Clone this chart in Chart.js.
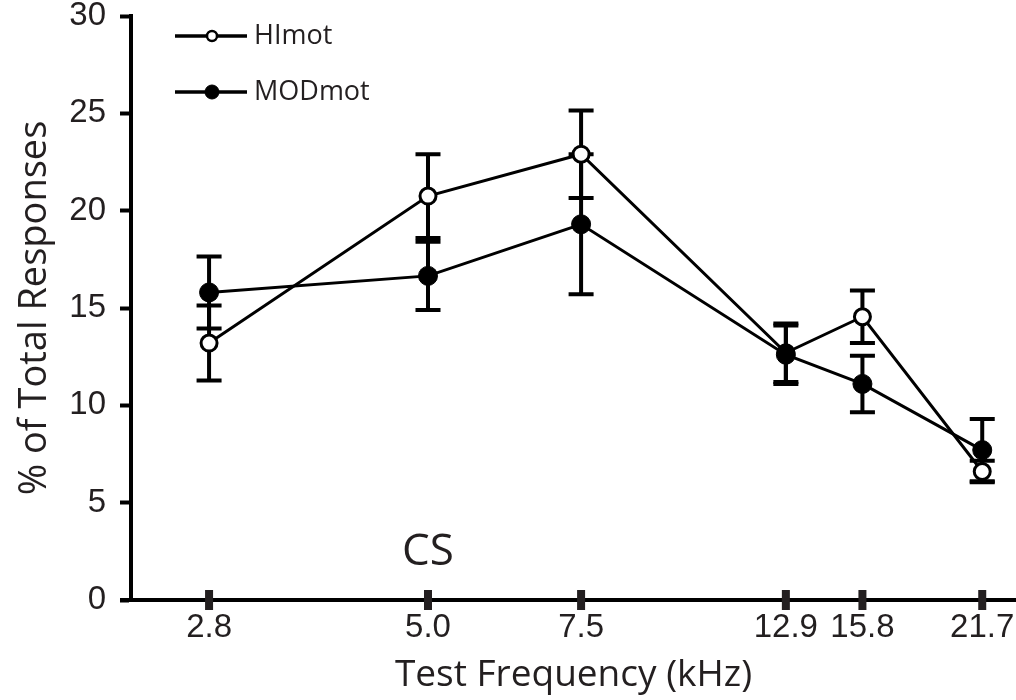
<!DOCTYPE html>
<html>
<head>
<meta charset="utf-8">
<script src="https://cdn.jsdelivr.net/npm/chart.js@4.4.0/dist/chart.umd.min.js"></script>
<style>
  html, body { margin: 0; padding: 0; background: #fff; }
  #wrap { width: 1016px; height: 700px; }
</style>
</head>
<body>
<div id="wrap"><canvas id="chart" width="1016" height="700"></canvas></div>
<script>
// test frequencies (kHz), plotted on a log axis
const freqs = [2.8, 5.0, 7.5, 12.9, 15.8, 21.7];
const freqLabels = ["2.8", "5.0", "7.5", "12.9", "15.8", "21.7"];
const yTicks = [0, 5, 10, 15, 20, 25, 30];

const himot = [13.2, 20.75, 22.9, 12.7, 14.55, 6.6];
const himotErr = [1.93, 2.15, 2.25, 1.5, 1.35, 0.55];
const modmot = [15.8, 16.65, 19.3, 12.6, 11.1, 7.7];
const modmotErr = [1.85, 1.75, 3.6, 1.5, 1.45, 1.6];

const csFreq = 5.0;

const INK = "#000";
const TICK_FONT = "'Liberation Sans', Arial, sans-serif";
const TEXT_FONT = "'Open Sans', 'Noto Sans', sans-serif";

const toPoints = (vals) => vals.map((v, i) => ({ x: freqs[i], y: v }));

const extras = {
  id: "extras",
  beforeDatasetsDraw(chart) {
    const ctx = chart.ctx;
    const xs = chart.scales.x, ys = chart.scales.y;
    ctx.save();
    ctx.strokeStyle = INK;
    ctx.lineWidth = 4;
    [[himot, himotErr], [modmot, modmotErr]].forEach(([vals, errs]) => {
      vals.forEach((v, i) => {
        const px = xs.getPixelForValue(freqs[i]);
        const top = ys.getPixelForValue(v + errs[i]);
        const bot = ys.getPixelForValue(v - errs[i]);
        ctx.beginPath();
        ctx.moveTo(px, top); ctx.lineTo(px, bot);
        ctx.moveTo(px - 12.5, top); ctx.lineTo(px + 12.5, top);
        ctx.moveTo(px - 12.5, bot); ctx.lineTo(px + 12.5, bot);
        ctx.stroke();
      });
    });
    ctx.restore();
  },
  afterDraw(chart) {
    const ctx = chart.ctx;
    const xs = chart.scales.x, ys = chart.scales.y;
    const area = chart.chartArea;
    ctx.save();

    // x axis runs a little past the y axis
    ctx.strokeStyle = INK;
    ctx.lineWidth = 4;
    ctx.beginPath();
    ctx.moveTo(area.left - 11, area.bottom);
    ctx.lineTo(area.left, area.bottom);
    ctx.stroke();

    // thick tick marks crossing the x axis
    ctx.fillStyle = "#231f20";
    xs.ticks.forEach((t) => {
      const px = xs.getPixelForValue(t.value);
      ctx.fillRect(px - 4, area.bottom - 10, 8, 20);
    });

    // CS marker under the conditioned frequency
    ctx.fillStyle = "#231f20";
    ctx.font = "44px " + TEXT_FONT;
    ctx.textAlign = "center";
    ctx.textBaseline = "alphabetic";
    ctx.fillText("CS", xs.getPixelForValue(csFreq), ys.getPixelForValue(1.8));

    // legend: line with marker, then label
    const rows = [
      { ds: chart.data.datasets[0], y: 36, r: 5, lw: 2.5 },
      { ds: chart.data.datasets[1], y: 92, r: 7, lw: 1 }
    ];
    rows.forEach((row) => {
      ctx.strokeStyle = INK;
      ctx.lineWidth = 3.5;
      ctx.beginPath();
      ctx.moveTo(175, row.y);
      ctx.lineTo(247, row.y);
      ctx.stroke();
      ctx.beginPath();
      ctx.arc(212, row.y, row.r, 0, Math.PI * 2);
      ctx.fillStyle = row.ds.pointBackgroundColor;
      ctx.fill();
      ctx.lineWidth = row.lw;
      ctx.stroke();
      ctx.fillStyle = "#231f20";
      ctx.font = "27px " + TEXT_FONT;
      ctx.textAlign = "left";
      ctx.textBaseline = "middle";
      ctx.fillText(row.ds.label, 254, row.y);
    });

    ctx.restore();
  }
};

new Chart(document.getElementById("chart"), {
  type: "line",
  data: {
    datasets: [
      {
        label: "HImot",
        data: toPoints(himot),
        borderColor: INK,
        borderWidth: 3,
        pointRadius: 8,
        pointBorderWidth: 3,
        pointBackgroundColor: "#fff",
        pointBorderColor: INK,
        order: 2
      },
      {
        label: "MODmot",
        data: toPoints(modmot),
        borderColor: INK,
        borderWidth: 3,
        pointRadius: 9.5,
        pointBorderWidth: 1,
        pointBackgroundColor: INK,
        pointBorderColor: INK,
        order: 1
      }
    ]
  },
  options: {
    responsive: false,
    animation: false,
    layout: { padding: 0, autoPadding: false },
    plugins: {
      legend: { display: false },
      tooltip: { enabled: false }
    },
    scales: {
      x: {
        type: "logarithmic",
        min: 2.277,
        max: 23.73,
        bounds: "data",
        afterBuildTicks: (scale) => {
          scale.ticks = freqs.map((f) => ({ value: f }));
        },
        afterFit: (scale) => {
          scale.height = 100;
          scale.paddingLeft = 0;
          scale.paddingRight = 0;
        },
        grid: { display: false, drawTicks: false },
        border: { display: true, color: INK, width: 4 },
        ticks: {
          autoSkip: false,
          maxRotation: 0,
          minRotation: 0,
          padding: 8,
          color: "#231f20",
          font: { family: TICK_FONT, size: 33 },
          callback: (v) => freqLabels[freqs.indexOf(v)]
        },
        title: {
          display: true,
          text: "Test Frequency (kHz)",
          color: "#231f20",
          font: { family: TEXT_FONT, size: 37 },
          padding: { top: 0, bottom: 2 }
        }
      },
      y: {
        min: 0,
        max: 30,
        afterBuildTicks: (scale) => {
          scale.ticks = yTicks.map((v) => ({ value: v }));
        },
        afterFit: (scale) => {
          scale.width = 131;
          scale.paddingTop = 16;
          scale.paddingBottom = 0;
        },
        grid: {
          display: true,
          drawOnChartArea: false,
          drawTicks: true,
          tickLength: 11,
          tickWidth: 4,
          tickColor: INK
        },
        border: { display: true, color: INK, width: 4 },
        ticks: {
          padding: 14,
          color: "#231f20",
          font: { family: TICK_FONT, size: 33 }
        },
        title: {
          display: true,
          text: "% of Total Responses",
          color: "#231f20",
          font: { family: TEXT_FONT, size: 38 },
          padding: { top: 12, bottom: 0 }
        }
      }
    }
  },
  plugins: [extras]
});
</script>
</body>
</html>
